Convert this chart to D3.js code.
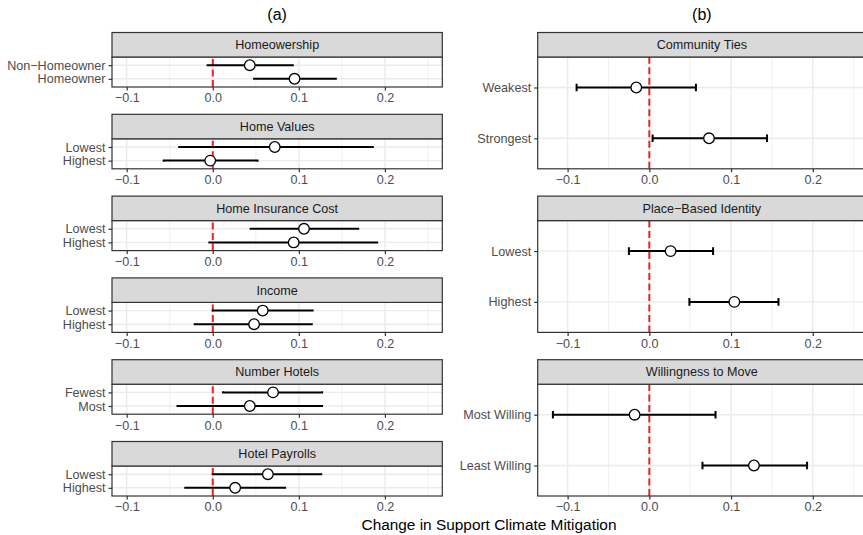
<!DOCTYPE html>
<html>
<head>
<meta charset="utf-8">
<script src="https://cdn.jsdelivr.net/npm/d3@7"></script>
<style>
body { margin: 0; background: #fff; }
svg { display: block; font-family: "Liberation Sans", Arial, sans-serif; }
</style>
</head>
<body>
<div class="chart"></div>
<script>
// (a) 左列的数据
let leftFacets = ["Homeowership", "Home Values", "Home Insurance Cost", "Income", "Number Hotels", "Hotel Payrolls"]
let leftLevels = [["Non−Homeowner", "Homeowner"], ["Lowest", "Highest"], ["Lowest", "Highest"], ["Lowest", "Highest"], ["Fewest", "Most"], ["Lowest", "Highest"]]
let leftEst = [[0.043, 0.095], [0.072, -0.003], [0.106, 0.094], [0.058, 0.048], [0.070, 0.043], [0.064, 0.026]]
let leftLow = [[-0.006, 0.048], [-0.039, -0.057], [0.044, -0.004], [0.000, -0.021], [0.012, -0.041], [0.000, -0.032]]
let leftHigh = [[0.093, 0.143], [0.186, 0.052], [0.169, 0.191], [0.116, 0.115], [0.127, 0.127], [0.126, 0.084]]
// (b) 右列的数据
let rightFacets = ["Community Ties", "Place−Based Identity", "Willingness to Move"]
let rightLevels = [["Weakest", "Strongest"], ["Lowest", "Highest"], ["Most Willing", "Least Willing"]]
let rightEst = [[-0.016, 0.073], [0.026, 0.104], [-0.018, 0.128]]
let rightLow = [[-0.089, 0.004], [-0.025, 0.049], [-0.118, 0.065]]
let rightHigh = [[0.057, 0.144], [0.078, 0.158], [0.081, 0.193]]
// x轴刻度
let xTicks = [-0.1, 0, 0.1, 0.2]
let xMinor = [-0.05, 0.05, 0.15, 0.25]

let width = 863, height = 535
let svg = d3.select(".chart")
    .append("svg")
    .attr("width", width)
    .attr("height", height)

let top0 = 32.5, bottom0 = 496, gap = 27.3, stripH = 24.5
let grid = "#ebebeb", dark = "#333333"

function drawColumn(cfg) {
    let n = cfg.facets.length
    let block = (bottom0 - top0 - gap * (n - 1)) / n
    let x = d3.scaleLinear().domain(cfg.domain).range(cfg.range)
    let g = svg.append("g")
    cfg.facets.forEach((name, i) => {
        let top = top0 + i * (block + gap)
        let py0 = top + stripH, py1 = top + block
        let y = d3.scalePoint().domain(cfg.levels[i]).range([py0, py1]).padding(0.6)
        let rows = cfg.levels[i].map((lv, j) => ({ lv: lv, est: cfg.est[i][j], lo: cfg.low[i][j], hi: cfg.high[i][j] }))
        let p = g.append("g")
        //网格线
        p.selectAll(".minor").data(xMinor).enter().append("line")
            .attr("x1", (d) => x(d)).attr("x2", (d) => x(d))
            .attr("y1", py0).attr("y2", py1)
            .attr("stroke", grid).attr("stroke-width", 0.7)
        p.selectAll(".major").data(xTicks).enter().append("line")
            .attr("x1", (d) => x(d)).attr("x2", (d) => x(d))
            .attr("y1", py0).attr("y2", py1)
            .attr("stroke", grid).attr("stroke-width", 1.4)
        p.selectAll(".hgrid").data(rows).enter().append("line")
            .attr("x1", cfg.range[0]).attr("x2", cfg.range[1])
            .attr("y1", (d) => y(d.lv)).attr("y2", (d) => y(d.lv))
            .attr("stroke", grid).attr("stroke-width", 1.4)
        //红色虚线
        p.append("line")
            .attr("x1", x(0)).attr("x2", x(0))
            .attr("y1", py1).attr("y2", py0)
            .attr("stroke", "#ee2020").attr("stroke-width", 2)
            .attr("stroke-dasharray", "7,3.5")
        //误差线
        let cap = y.step() * 0.075
        rows.forEach((d) => {
            let yy = y(d.lv)
            p.append("path")
                .attr("d", `M${x(d.lo)},${yy}H${x(d.hi)}M${x(d.lo)},${yy - cap}V${yy + cap}M${x(d.hi)},${yy - cap}V${yy + cap}`)
                .attr("stroke", "#000").attr("stroke-width", 2).attr("fill", "none")
        })
        p.selectAll("circle").data(rows).enter().append("circle")
            .attr("cx", (d) => x(d.est)).attr("cy", (d) => y(d.lv))
            .attr("r", 5.3)
            .attr("fill", "#fff").attr("stroke", "#000").attr("stroke-width", 1.3)
        //边框和标题条
        p.append("rect")
            .attr("x", cfg.range[0]).attr("y", py0)
            .attr("width", cfg.range[1] - cfg.range[0]).attr("height", py1 - py0)
            .attr("fill", "none").attr("stroke", dark).attr("stroke-width", 1.2)
        p.append("rect")
            .attr("x", cfg.range[0]).attr("y", top)
            .attr("width", cfg.range[1] - cfg.range[0]).attr("height", stripH)
            .attr("fill", "#d9d9d9").attr("stroke", dark).attr("stroke-width", 1.2)
        p.append("text")
            .attr("x", (cfg.range[0] + cfg.range[1]) / 2)
            .attr("y", top + stripH / 2 + 4.4)
            .attr("text-anchor", "middle")
            .attr("font-size", 12.6).attr("fill", "#1a1a1a")
            .text(name)
        //坐标轴
        p.append("g")
            .attr("transform", `translate(0,${py1})`)
            .call(d3.axisBottom(x).tickValues(xTicks).tickFormat(d3.format(".1f")).tickSize(3.5).tickPadding(3))
            .call((a) => a.select(".domain").remove())
        p.append("g")
            .attr("transform", `translate(${cfg.range[0]},0)`)
            .call(d3.axisLeft(y).tickSize(3.5).tickPadding(3))
            .call((a) => a.select(".domain").remove())
    })
    g.selectAll(".tick line").attr("stroke", dark).attr("stroke-width", 1.2)
    g.selectAll(".tick text").attr("fill", "#4d4d4d").attr("font-size", 12.6)
        .attr("font-family", "Liberation Sans, Arial, sans-serif")
    svg.append("text")
        .attr("x", (cfg.range[0] + cfg.range[1]) / 2).attr("y", 20)
        .attr("text-anchor", "middle").attr("font-size", 16)
        .text(cfg.title)
}

drawColumn({ title: "(a)", facets: leftFacets, levels: leftLevels, est: leftEst, low: leftLow, high: leftHigh,
    domain: [-0.1171, 0.2667], range: [112, 442.3] })
drawColumn({ title: "(b)", facets: rightFacets, levels: rightLevels, est: rightEst, low: rightLow, high: rightHigh,
    domain: [-0.1366, 0.2651], range: [537.7, 866] })

svg.append("text")
    .attr("x", 489).attr("y", 530)
    .attr("text-anchor", "middle").attr("font-size", 15.4)
    .text("Change in Support Climate Mitigation")
</script>
</body>
</html>
